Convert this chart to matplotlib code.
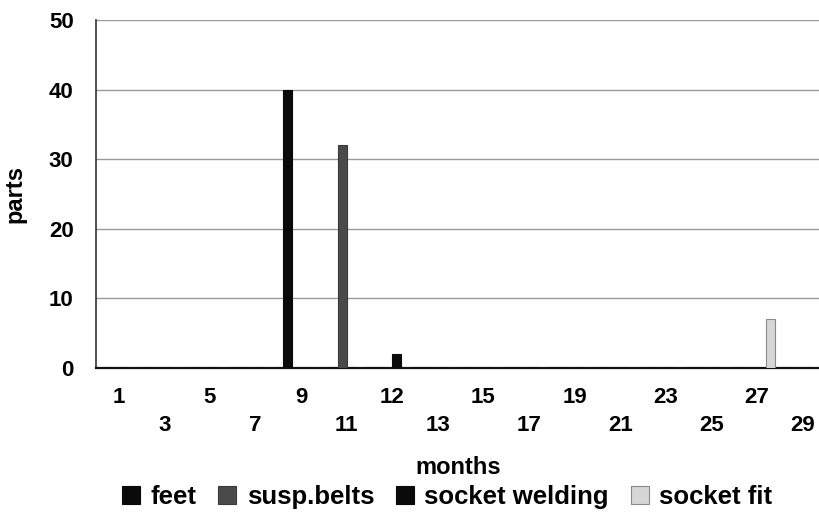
import matplotlib
matplotlib.use("Agg")
import matplotlib.pyplot as plt
import numpy as np

months = ["1", "3", "5", "7", "9", "11", "12", "13", "15", "17", "19", "21", "23", "25", "27", "29"]
feet =           [0, 0, 0, 0, 40, 0, 0, 0, 0, 0, 0, 0, 0, 0, 0, 0]
susp_belts =     [0, 0, 0, 0, 0, 32, 0, 0, 0, 0, 0, 0, 0, 0, 0, 0]
socket_welding = [0, 0, 0, 0, 0, 0, 2, 0, 0, 0, 0, 0, 0, 0, 0, 0]
socket_fit =     [0, 0, 0, 0, 0, 0, 0, 0, 0, 0, 0, 0, 0, 0, 7, 0]
series_names = ["feet", "susp.belts", "socket welding", "socket fit"]
series = [feet, susp_belts, socket_welding, socket_fit]
colors = ["#0a0a0a", "#4a4a4a", "#0a0a0a", "#d6d6d6"]
edges = ["#0a0a0a", "#3a3a3a", "#0a0a0a", "#8a8a8a"]

plt.rcParams['font.family'] = ['Liberation Sans', 'DejaVu Sans']
plt.rcParams['font.weight'] = 'bold'
FS = 16

fig = plt.figure(figsize=(8.19, 5.18), dpi=100)
ax = fig.add_axes([0.117, 0.29, 0.891, 0.671])

x = np.arange(len(months))
w = 0.2
for i, (name, vals) in enumerate(zip(series_names, series)):
    ax.bar(x + (i - 1.5) * w, vals, width=w, color=colors[i], edgecolor=edges[i],
           linewidth=0.8, label=name, zorder=3)

ax.set_xlim(-0.5, len(months) - 0.5)
ax.set_ylim(0, 50)
ax.set_yticks([0, 10, 20, 30, 40, 50])
ax.yaxis.grid(True, color="#9a9a9a", linewidth=1.0, zorder=0)
ax.set_axisbelow(True)
for s in ["top", "right"]:
    ax.spines[s].set_visible(False)
ax.spines["left"].set_color("#333333")
ax.spines["left"].set_linewidth(1.2)
ax.spines["bottom"].set_color("#111111")
ax.spines["bottom"].set_linewidth(1.6)
ax.tick_params(axis="both", length=0, labelsize=FS)
ax.tick_params(axis="y", pad=16)
ax.tick_params(axis="x", pad=14)
ax.set_xticks(x)
ax.set_xticklabels(months, fontweight="bold")
for i, lbl in enumerate(ax.get_xticklabels()):
    if i % 2 == 1:
        lbl.set_y(-0.08)
for lbl in ax.get_yticklabels():
    lbl.set_fontweight("bold")

ax.set_ylabel("parts", fontsize=FS + 1, fontweight="bold")
ax.yaxis.set_label_coords(-0.095, 0.5)
fig.text(0.56, 0.098, "months", ha="center", va="center", fontsize=FS + 1, fontweight="bold")

leg = fig.legend(loc="center", bbox_to_anchor=(0.546, 0.04), ncol=4, frameon=False,
                 handlelength=0.7, handleheight=0.7, handletextpad=0.4,
                 columnspacing=0.85, prop={"weight": "bold", "size": 18.5})

fig.savefig("out.png", dpi=100)
